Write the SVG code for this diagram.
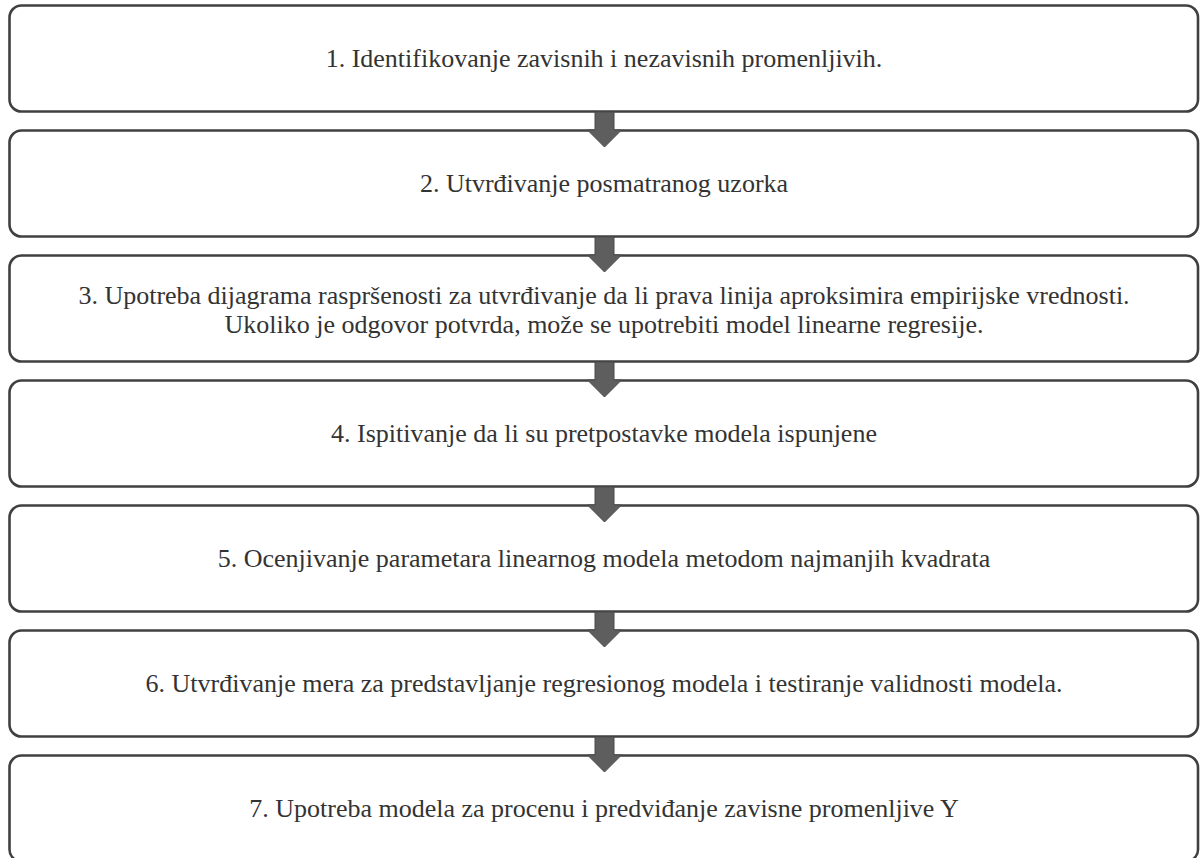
<svg xmlns="http://www.w3.org/2000/svg" width="1200" height="858" viewBox="0 0 1200 858">
  <style>
    .box { fill: #ffffff; stroke: #404040; stroke-width: 2.6; }
    .lbl { font-size: 26px; fill: #333333; text-anchor: middle; }
    .arrow { fill: #5e5e5e; stroke: #4a4a4a; stroke-width: 1; }
  </style>
  <defs>
    <!-- block arrow linking consecutive steps; origin = bottom edge of the upper box -->
    <path id="down" d="M -9.5 0 L 9.5 0 L 9.5 18 L 17 18 L 0 35 L -17 18 L -9.5 18 Z"/>
  </defs>

  <g font-family="'Liberation Serif', 'DejaVu Serif', serif">
  <g id="step1">
    <rect class="box" x="9.5" y="5.5" width="1188.5" height="106" rx="12"/>
    <text class="lbl" x="604" y="67">1. Identifikovanje zavisnih i nezavisnih promenljivih.</text>
  </g>
  <g id="step2">
    <rect class="box" x="9.5" y="130.5" width="1188.5" height="106" rx="12"/>
    <text class="lbl" x="604" y="192">2. Utvrđivanje posmatranog uzorka</text>
  </g>
  <g id="step3">
    <rect class="box" x="9.5" y="255.5" width="1188.5" height="106" rx="12"/>
    <text class="lbl" x="604" y="304">3. Upotreba dijagrama raspršenosti za utvrđivanje da li prava linija aproksimira empirijske vrednosti.</text>
    <text class="lbl" x="604" y="333">Ukoliko je odgovor potvrda, može se upotrebiti model linearne regresije.</text>
  </g>
  <g id="step4">
    <rect class="box" x="9.5" y="380.5" width="1188.5" height="106" rx="12"/>
    <text class="lbl" x="604" y="442">4. Ispitivanje da li su pretpostavke modela ispunjene</text>
  </g>
  <g id="step5">
    <rect class="box" x="9.5" y="505.5" width="1188.5" height="106" rx="12"/>
    <text class="lbl" x="604" y="567">5. Ocenjivanje parametara linearnog modela metodom najmanjih kvadrata</text>
  </g>
  <g id="step6">
    <rect class="box" x="9.5" y="630.5" width="1188.5" height="106" rx="12"/>
    <text class="lbl" x="604" y="692">6. Utvrđivanje mera za predstavljanje regresionog modela i testiranje validnosti modela.</text>
  </g>
  <g id="step7">
    <rect class="box" x="9.5" y="755.5" width="1188.5" height="106" rx="12"/>
    <text class="lbl" x="604" y="817">7. Upotreba modela za procenu i predviđanje zavisne promenljive Y</text>
  </g>
  </g>

  <g id="connectors">
    <use href="#down" class="arrow" x="604.5" y="112"/>
    <use href="#down" class="arrow" x="604.5" y="237"/>
    <use href="#down" class="arrow" x="604.5" y="362"/>
    <use href="#down" class="arrow" x="604.5" y="487"/>
    <use href="#down" class="arrow" x="604.5" y="612"/>
    <use href="#down" class="arrow" x="604.5" y="737"/>
  </g>
</svg>
